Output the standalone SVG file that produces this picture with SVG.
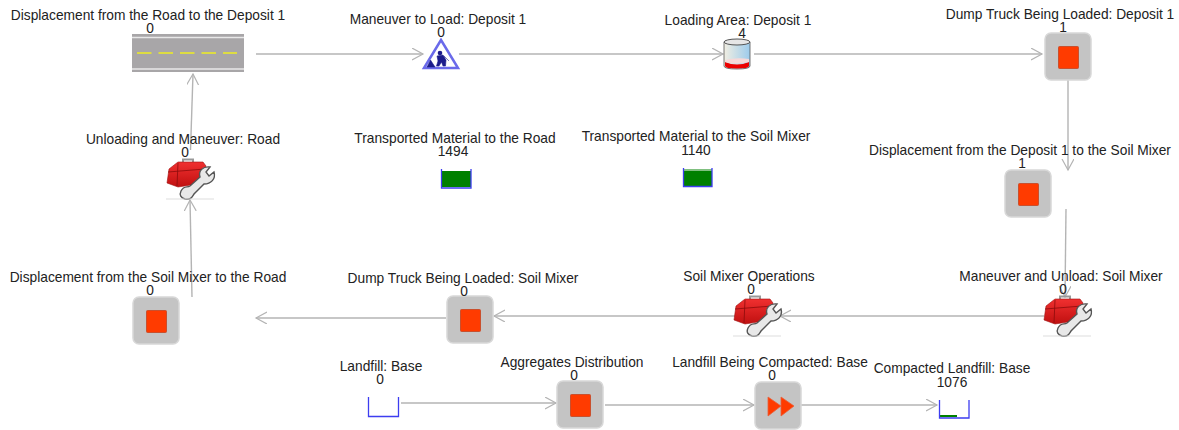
<svg xmlns="http://www.w3.org/2000/svg" xmlns:xlink="http://www.w3.org/1999/xlink" width="1179" height="430" viewBox="0 0 1179 430">
<style>
text{font-family:"Liberation Sans",Arial,sans-serif;font-size:13.75px;fill:#222;text-anchor:middle}
.c{fill:none;stroke:#b4b4b4;stroke-width:1.4}
.box{fill:#c4c4c4;stroke:#d8d8d8;stroke-width:1.5}
.stop{fill:#ff3b00;stroke:#c9502e;stroke-width:1}
.tub{fill:none;stroke:#3d3df0;stroke-width:1.3}
.g{fill:#008000}
</style>
<defs>
<marker id="a" markerUnits="userSpaceOnUse" markerWidth="14" markerHeight="14" refX="11" refY="6" orient="auto"><path d="M0 0L11 6L0 12" fill="none" stroke="#b4b4b4" stroke-width="1.2"/></marker>
<linearGradient id="cyl" x1="0" x2="1" y1="0" y2="0"><stop offset="0" stop-color="#f1eee2"/><stop offset="1" stop-color="#9ccbec"/></linearGradient>
<linearGradient id="red" x1="0" x2="0" y1="0" y2="1"><stop offset="0" stop-color="#f03030"/><stop offset="1" stop-color="#c01010"/></linearGradient>
<g id="stopnode"><rect class="box" x="0" y="0" width="46" height="47" rx="6"/><rect class="stop" x="13.500" y="13.500" width="20" height="22" rx="1"/></g>
<g id="tool">
<path d="M16 7V1.500H26V7" fill="none" stroke="#999" stroke-width="2"/>
<path d="M2 11L11 4H36L39 8L37 25L11 29L0 25Z" fill="url(#red)" stroke="#a01010" stroke-width=".6"/>
<path d="M11 5L10 28" stroke="#8c0b0b" stroke-width=".8" fill="none"/>
<path d="M1 14L38 11" stroke="#8c0b0b" stroke-width=".8" fill="none"/>
<path d="M14 33C17 27 20 30 23 28L33 19C31 13 36 8 43 9L39 14L42 18L47 14C49 21 44 26 37 26L27 36C25 39 24 42 18 41C14 40 12 37 14 33Z" fill="#e8e8e8" stroke="#555" stroke-width="1.400"/>
<path d="M-1 41H47" stroke="#ddd" stroke-width="1"/>
</g>
</defs>
<g id="connectors">
<path class="c" marker-end="url(#a)" d="M256 54H423"/>
<path class="c" marker-end="url(#a)" d="M459 54H723"/>
<path class="c" marker-end="url(#a)" d="M754 54H1042"/>
<path class="c" marker-end="url(#a)" d="M1068 80V170"/>
<path class="c" marker-end="url(#a)" d="M1066 209L1065 297"/>
<path class="c" marker-end="url(#a)" d="M1044 316H780"/>
<path class="c" marker-end="url(#a)" d="M735 316H494"/>
<path class="c" marker-end="url(#a)" d="M446 318H256"/>
<path class="c" marker-end="url(#a)" d="M192 297L190 200"/>
<path class="c" marker-end="url(#a)" d="M190.500 150L193 74"/>
<path class="c" marker-end="url(#a)" d="M401 403H556"/>
<path class="c" marker-end="url(#a)" d="M605 405H754"/>
<path class="c" marker-end="url(#a)" d="M801 405H937"/>
</g>
<g id="n-road">
<rect x="132" y="34" width="112" height="38" fill="#a8a6a8"/>
<path d="M132 37.500H244M132 69H244" stroke="#e8e8e8" stroke-width="1.500"/>
<path d="M137 53H237" stroke="#eeee20" stroke-width="1.500" stroke-dasharray="14.500 7"/>
<text x="148" y="20">Displacement from the Road to the Deposit 1</text><text x="150" y="33">0</text>
</g>
<g id="n-maneuver">
<path d="M441 40L458 68H424Z" fill="#fff" stroke="#6a6aea" stroke-width="2.500"/>
<circle cx="440" cy="53" r="2.300" fill="#1c1c8c"/>
<path d="M437 56L443 55L446 60L445.500 66H443L441.500 62L439 66H436.500L438 61ZM427 67L430.500 60L435 67ZM444 56L449 61" fill="#1c1c8c" stroke="#1c1c8c" stroke-width=".6"/>
<text x="438" y="24">Maneuver to Load: Deposit 1</text><text x="441" y="37">0</text>
</g>
<g id="n-loading">
<path d="M724 42V66Q724 69 737 69Q750 69 750 66V42Z" fill="url(#cyl)" stroke="#555" stroke-width=".8"/>
<path d="M725 62Q737 67 749 62V66Q749 68.500 737 68.500Q725 68.500 725 66Z" fill="#ec0000"/>
<path d="M725 60Q737 57 749 59V62Q737 65 725 62Z" fill="#f6d8d8"/>
<ellipse cx="737" cy="42" rx="13" ry="3" fill="#e6e6e6" stroke="#555" stroke-width="1"/>
<text x="738" y="25">Loading Area: Deposit 1</text><text x="742" y="38">4</text>
</g>
<g id="n-dump1"><use xlink:href="#stopnode" href="#stopnode" x="1045" y="33"/>
<text x="1060" y="19">Dump Truck Being Loaded: Deposit 1</text><text x="1063" y="32">1</text></g>
<g id="n-unload-road"><use xlink:href="#tool" href="#tool" x="167" y="158"/>
<text x="183" y="144">Unloading and Maneuver: Road</text><text x="185" y="157">0</text></g>
<g id="n-mat-road">
<rect class="g" x="442" y="171" width="29" height="16"/>
<path class="tub" d="M441.500 169V188H471V169"/>
<text x="455" y="143">Transported Material to the Road</text><text x="453" y="156">1494</text></g>
<g id="n-mat-mixer">
<rect x="683" y="169" width="29" height="3" fill="#80c080"/><rect class="g" x="683" y="171" width="29" height="15"/>
<path class="tub" d="M683.500 168V186.500H712V168"/>
<text x="696" y="141">Transported Material to the Soil Mixer</text><text x="696" y="155">1140</text></g>
<g id="n-disp-mixer"><use xlink:href="#stopnode" href="#stopnode" x="1005" y="170"/>
<text x="1020" y="155">Displacement from the Deposit 1 to the Soil Mixer</text><text x="1022" y="168">1</text></g>
<g id="n-unload-mixer"><use xlink:href="#tool" href="#tool" x="1044" y="295"/>
<text x="1061" y="281">Maneuver and Unload: Soil Mixer</text><text x="1063" y="294">0</text></g>
<g id="n-mixer-ops"><use xlink:href="#tool" href="#tool" x="734" y="295"/>
<text x="749" y="281">Soil Mixer Operations</text><text x="751" y="294">0</text></g>
<g id="n-dump-mixer"><use xlink:href="#stopnode" href="#stopnode" x="447" y="296"/>
<text x="463" y="283">Dump Truck Being Loaded: Soil Mixer</text><text x="464" y="296">0</text></g>
<g id="n-disp-road"><use xlink:href="#stopnode" href="#stopnode" x="133" y="297"/>
<text x="148" y="282">Displacement from the Soil Mixer to the Road</text><text x="150" y="295">0</text></g>
<g id="n-landfill">
<path class="tub" d="M368.500 397V416.500H398.500V397"/>
<text x="381" y="371">Landfill: Base</text><text x="380" y="384">0</text></g>
<g id="n-aggregates"><use xlink:href="#stopnode" href="#stopnode" x="557" y="381"/>
<text x="572" y="367">Aggregates Distribution</text><text x="574" y="380">0</text></g>
<g id="n-compacting"><rect class="box" x="755" y="382" width="46" height="47" rx="6"/>
<path d="M768 397L781 406L768 416ZM781 397L794 406L781 416Z" fill="#ff3b00" stroke="#e8603a" stroke-width=".8"/>
<text x="770" y="367">Landfill Being Compacted: Base</text><text x="772" y="380">0</text></g>
<g id="n-compacted">
<rect class="g" x="940" y="415" width="17" height="2"/>
<path class="tub" d="M939.500 400V418H969V400"/>
<text x="952" y="373">Compacted Landfill: Base</text><text x="952" y="387">1076</text></g>
</svg>
